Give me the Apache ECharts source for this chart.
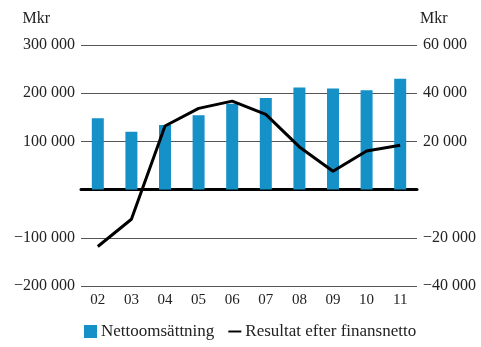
<!DOCTYPE html>
<html>
<head>
<meta charset="utf-8">
<script src="https://cdn.jsdelivr.net/npm/echarts@6/dist/echarts.min.js"></script>
<style>
  html, body { margin: 0; padding: 0; background: #fff; }
  #chart { width: 481px; height: 347px; }
</style>
</head>
<body>
<div id="chart"></div>
<script>
// data
const years = ['02', '03', '04', '05', '06', '07', '08', '09', '10', '11'];
const nettoomsattning = [148000, 120000, 134000, 154000, 178000, 190000, 212000, 210000, 206000, 230000];
const resultat = [-23600, -12300, 26400, 33700, 36700, 31200, 17700, 7600, 16000, 18400];

const fontFam = '"Liberation Serif", "DejaVu Serif", serif';

// 300000 -> "300 000", negatives with a real minus sign, zero left blank
const fmt = v => {
  if (v === 0) return '';
  const s = Math.abs(v).toString().replace(/\B(?=(\d{3})+(?!\d))/g, ' ');
  return v < 0 ? '\u2212' + s : s;
};

const chart = echarts.init(document.getElementById('chart'));

chart.setOption({
  animation: false,
  textStyle: { fontFamily: fontFam, color: '#222' },
  grid: { left: 81, right: 64, top: 45, bottom: 61 },
  legend: {
    bottom: 2,
    left: 79,
    itemWidth: 13,
    itemHeight: 13,
    itemGap: 14,
    textStyle: { fontFamily: fontFam, fontSize: 17, color: '#222', padding: [0, 0, 0, -1] },
    data: [
      { name: 'Nettoomsättning', icon: 'rect' },
      { name: 'Resultat efter finansnetto', icon: 'path://M0,5 L20,5 L20,8 L0,8 Z', itemStyle: { color: '#000' } }
    ]
  },
  xAxis: {
    type: 'category',
    data: years,
    axisLine: { onZero: true, lineStyle: { color: '#000', width: 3 } },
    axisTick: { show: false },
    axisLabel: { interval: 0, fontSize: 15, color: '#222', margin: 7 }
  },
  yAxis: [
    {
      type: 'value',
      min: -200000,
      max: 300000,
      interval: 100000,
      name: 'Mkr',
      nameLocation: 'end',
      nameGap: 18,
      nameTextStyle: { fontSize: 16, color: '#222', align: 'right', padding: [0, 31, 0, 0] },
      axisLine: { show: false },
      axisTick: { show: false },
      axisLabel: { fontSize: 16, color: '#222', margin: 6, formatter: fmt },
      splitLine: { lineStyle: { color: '#555', width: 1 } }
    },
    {
      type: 'value',
      min: -40000,
      max: 60000,
      interval: 20000,
      name: 'Mkr',
      nameLocation: 'end',
      nameGap: 18,
      nameTextStyle: { fontSize: 16, color: '#222', align: 'left', padding: [0, 0, 0, 3] },
      axisLine: { show: false },
      axisTick: { show: false },
      axisLabel: { fontSize: 16, color: '#222', margin: 6, formatter: fmt },
      splitLine: { show: false }
    }
  ],
  series: [
    {
      name: 'Nettoomsättning',
      type: 'bar',
      yAxisIndex: 0,
      data: nettoomsattning,
      barWidth: 12,
      itemStyle: { color: '#1591c8' }
    },
    {
      name: 'Resultat efter finansnetto',
      type: 'line',
      yAxisIndex: 1,
      data: resultat,
      symbol: 'none',
      lineStyle: { color: '#000', width: 3 },
      itemStyle: { color: '#000' }
    }
  ]
});
</script>
</body>
</html>
